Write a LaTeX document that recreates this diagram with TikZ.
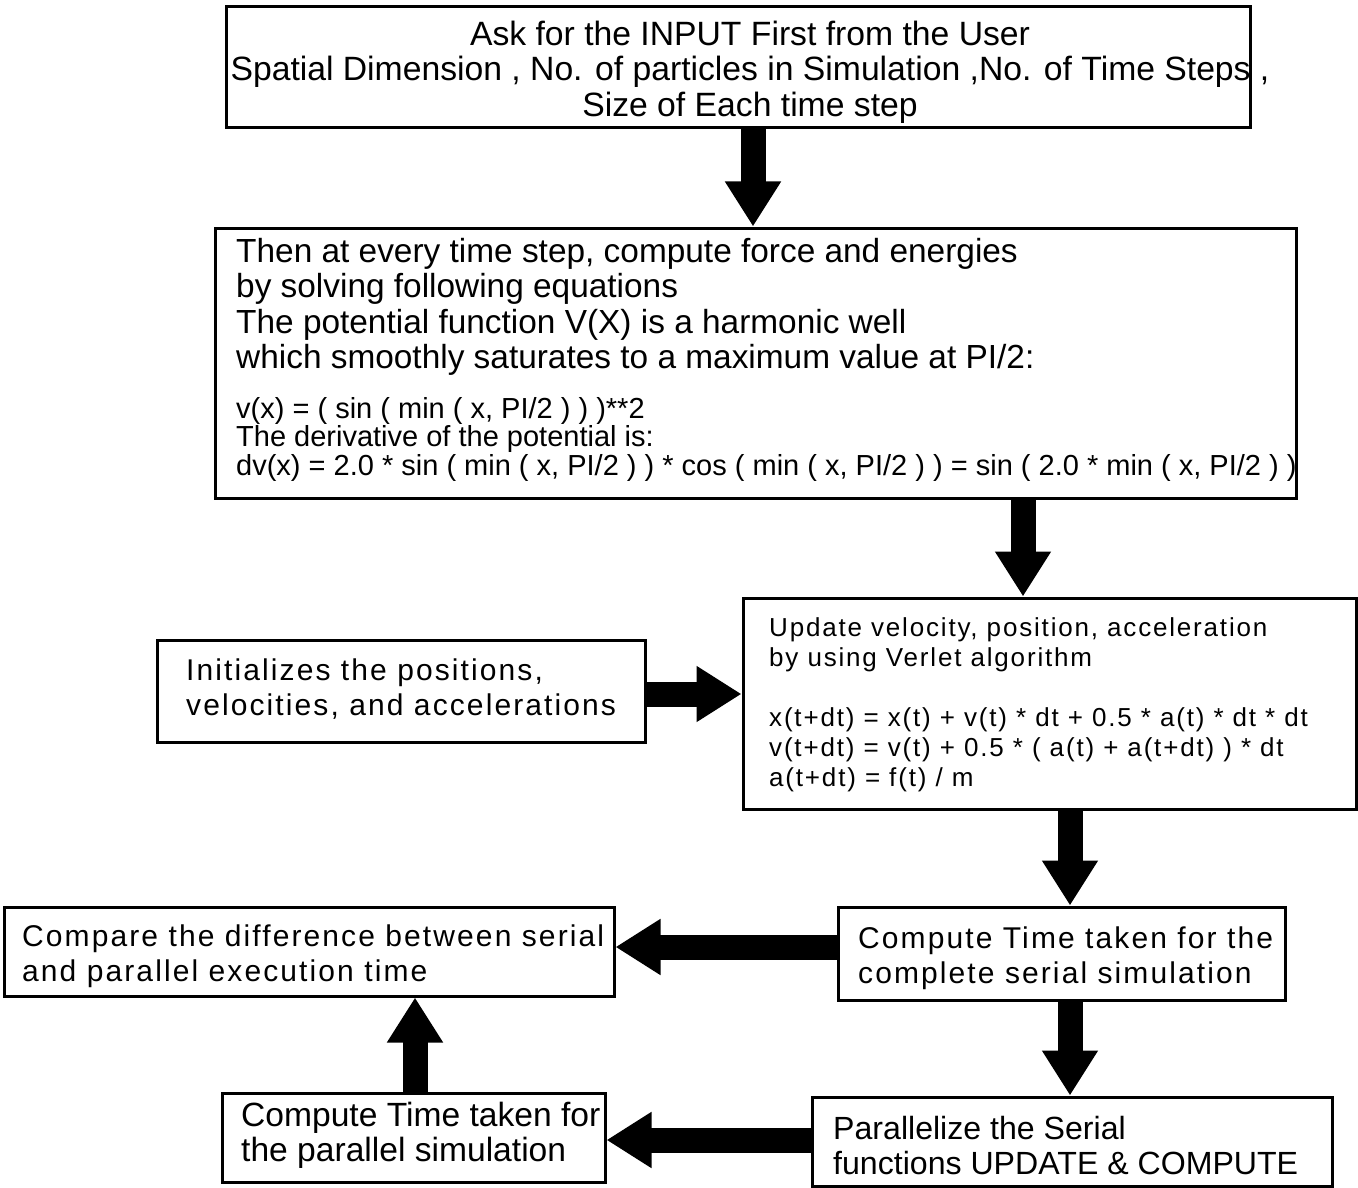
\documentclass[tikz,border=0pt]{standalone}
\usepackage{fontspec}
\setmainfont{Liberation Sans}
\newfontfamily\fa{Liberation Sans}
\newfontfamily\fb[LetterSpace=7]{Liberation Sans}
\usetikzlibrary{arrows.meta}
\begin{document}
\begin{tikzpicture}[x=1pt,y=-1pt,
  box/.style={draw=black, line width=3pt, fill=white, rectangle, inner sep=0pt},
  txt/.style={inner sep=0pt, align=left, anchor=west, text=black},
  bigarrow/.style={line width=25pt, -{Triangle[length=45pt,width=53pt]}},
  fA/.style={font=\fa\fontsize{#1}{35.5}\selectfont},
  fAs/.style={font=\fa\fontsize{29}{28.5}\selectfont},
  fB/.style={font=\fb\fontsize{30}{35}\selectfont},
  fBs/.style={font=\fb\fontsize{26}{30}\selectfont}]
\useasboundingbox[fill=white] (0,0) rectangle (1358,1188);

% boxes
\node[box, minimum width=1024pt, minimum height=121pt] (b1) at (738,67.5) {};
\node[box, minimum width=1081pt, minimum height=270pt] (b2) at (755.5,363) {};
\node[box, minimum width=488pt, minimum height=102pt] (b3) at (401,691) {};
\node[box, minimum width=613pt, minimum height=211pt] (b4) at (1049.5,703.5) {};
\node[box, minimum width=610pt, minimum height=89pt] (b5) at (309,951.5) {};
\node[box, minimum width=447pt, minimum height=93pt] (b6) at (1061.5,953.5) {};
\node[box, minimum width=383pt, minimum height=89pt] (b7) at (413.5,1137.5) {};
\node[box, minimum width=520pt, minimum height=89pt] (b8) at (1072,1141.5) {};

% texts
\node[txt, fA=33.7, align=center, anchor=center] (t1) at (750,72)
  {Ask for the INPUT First from the User\\
   Spatial Dimension , No. of particles in Simulation ,No. of Time Steps ,\\
   Size of Each time step};
\node[txt, fA=33.4] (t2a) at (236,307)
  {Then at every time step, compute force and energies\\
   by solving following equations\\
   The potential function V(X) is a harmonic well\\
   which smoothly saturates to a maximum value at PI/2:};
\node[txt, fAs] (t2b) at (236,439)
  {v(x) = ( sin ( min ( x, PI/2 ) ) )**2\\
   The derivative of the potential is:\\
   dv(x) = 2.0 * sin ( min ( x, PI/2 ) ) * cos ( min ( x, PI/2 ) ) = sin ( 2.0 * min ( x, PI/2 ) )};
\node[txt, fB] (t3) at (186,689)
  {Initializes the positions,\\
   velocities, and accelerations};
\node[txt, fBs] (t4) at (769,704.5)
  {Update velocity, position, acceleration\\
   by using Verlet algorithm\\[30pt]
   x(t+dt) = x(t) + v(t) * dt + 0.5 * a(t) * dt * dt\\
   v(t+dt) = v(t) + 0.5 * ( a(t) + a(t+dt) ) * dt\\
   a(t+dt) = f(t) / m};
\node[txt, fB] (t5) at (22,956.5)
  {Compare the difference between serial\\
   and parallel execution time};
\node[txt, fB] (t6) at (858,958)
  {Compute Time taken for the\\
   complete serial simulation};
\node[txt, fA=33.6] (t7) at (241,1135.5)
  {Compute Time taken for\\
   the parallel simulation};
\node[txt, fA=32.1] (t8) at (833,1145.5)
  {Parallelize the Serial\\
   functions UPDATE \& COMPUTE};

% helper coordinates for arrow lines
\coordinate (xa) at (753,0);
\coordinate (xb) at (1023,0);
\coordinate (xc) at (1070,0);
\coordinate (xd) at (415,0);
\coordinate (ya) at (0,694);
\coordinate (yb) at (0,947);
\coordinate (yc) at (0,1140);

% arrows
\draw[bigarrow] (b1.south -| xa) -- (b2.north -| xa);
\draw[bigarrow] (b2.south -| xb) -- (b4.north -| xb);
\draw[bigarrow] (b3.east |- ya) -- (b4.west |- ya);
\draw[bigarrow] (b4.south -| xc) -- (b6.north -| xc);
\draw[bigarrow] (b6.west |- yb) -- (b5.east |- yb);
\draw[bigarrow] (b6.south -| xc) -- (b8.north -| xc);
\draw[bigarrow] (b8.west |- yc) -- (b7.east |- yc);
\draw[bigarrow] (b7.north -| xd) -- (b5.south -| xd);
\end{tikzpicture}
\end{document}
